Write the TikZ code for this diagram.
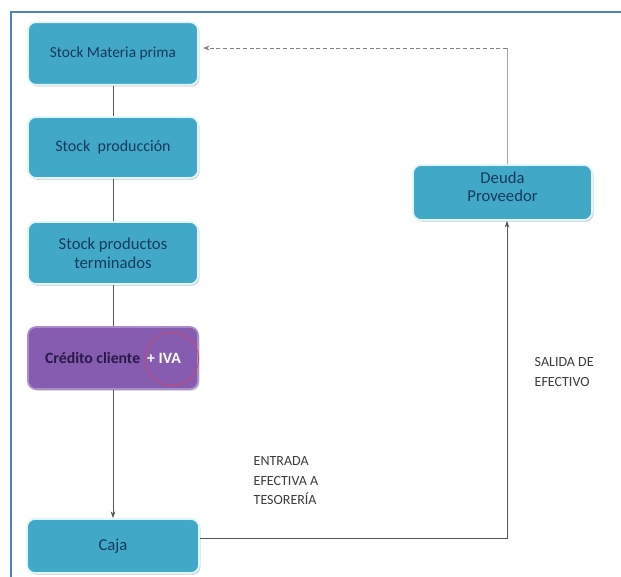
\documentclass[tikz,border=0pt]{standalone}
\usepackage{fontspec}
\setmainfont{Carlito}
\usetikzlibrary{shadows,arrows.meta}
\definecolor{boxfill}{RGB}{66,168,200}
\definecolor{boxtext}{RGB}{22,58,92}
\definecolor{purp}{RGB}{133,92,176}
\definecolor{frameblue}{RGB}{79,129,189}
\definecolor{linegray}{RGB}{85,85,85}
\definecolor{labelgray}{RGB}{60,60,60}
\definecolor{ringred}{RGB}{205,70,110}
\begin{document}
\begin{tikzpicture}[x=0.75pt,y=-0.75pt,
  box/.style={rectangle, rounded corners=6pt, fill=boxfill, draw=cyan!12, line width=1.3pt,
    drop shadow={opacity=0.3,shadow xshift=1.2pt,shadow yshift=-1.4pt},
    text=boxtext, align=center, inner sep=0pt, minimum width=127.5pt},
  pbox/.style={box, fill=purp, draw=purp!70!white},
  conn/.style={draw=linegray, line width=0.6pt},
  tip/.style={-{Stealth[length=5pt,width=3.5pt]}},
  lbl/.style={anchor=north west, align=left, text=labelgray, font=\fontsize{10.5}{14.5}\selectfont},
  boxfont/.style={font=\fontsize{11.5}{13}\selectfont}
]
\useasboundingbox (0,0) rectangle (621,577);
\fill[white] (0,0) rectangle (621,577);
% frame
\draw[frameblue, line width=2.2pt] (11,578) -- (11,12) -- (622,12);

% boxes
\node[box, boxfont, minimum height=47pt] (m) at (113,53.5) {Stock Materia prima};
\node[box, minimum height=45.75pt, font=\fontsize{12}{14}\selectfont] (p) at (113,147.5) {Stock\ \ producción};
\node[box, minimum height=46.5pt, font=\fontsize{12.5}{14}\selectfont] (t) at (113,253) {Stock productos\\terminados};
\node[pbox, minimum height=46.5pt, font=\bfseries\fontsize{11.8}{13}\selectfont] (c) at (113,358)
  {\textcolor[RGB]{40,25,70}{Crédito cliente}\hspace{0.45em}\textcolor{white}{+ IVA}};
\node[box, minimum height=40.5pt, minimum width=129pt, font=\fontsize{12.5}{14}\selectfont] (caja) at (113,546) {Caja};
\node[box, minimum height=41.25pt, minimum width=134.25pt,
  label={[align=center, text=boxtext, font=\fontsize{12.5}{13.5}\selectfont, yshift=4.5pt]center:Deuda\\Proveedor}] (deuda) at (502.5,192.5) {};

% red ring around + IVA
\node[circle, draw=ringred, line width=0.6pt, minimum size=40pt, inner sep=0pt] (ring) at (172,359) {};

% left chain
\draw[conn] (m) -- (p);
\draw[conn] (p) -- (t);
\draw[conn] (t) -- (c);
\draw[conn, tip] (c) -- (caja);

% right loop
\coordinate (k1) at (507,538);
\coordinate (k2) at (507,48);
\draw[conn, tip] (k1 -| caja.east) -- (k1) -- (k1 |- deuda.south);
\draw[draw=gray!70, line width=0.6pt] (k2 |- deuda.north) -- (k2);
\draw[draw=gray, line width=0.6pt, densely dashed, tip] (k2) -- ([xshift=3pt]k2 -| m.east);

% labels
\node[lbl] (entrada) at (249,452) {ENTRADA\\EFECTIVA A\\TESORERÍA};
\node[lbl] (salida) at (530,353) {SALIDA DE\\EFECTIVO};
\end{tikzpicture}
\end{document}
